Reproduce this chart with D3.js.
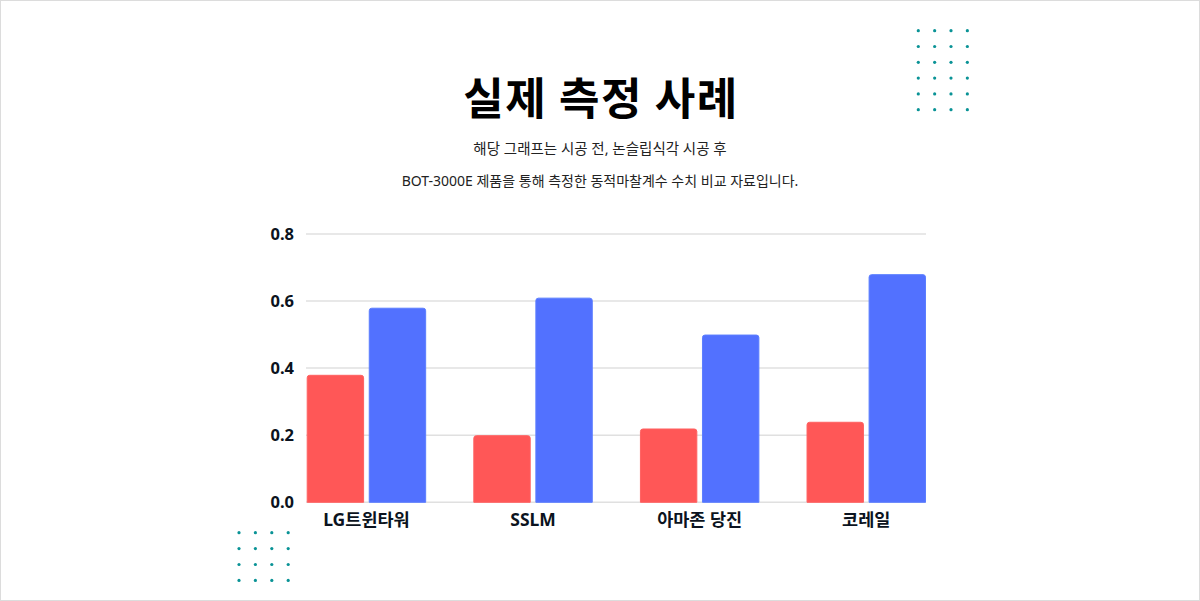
<!DOCTYPE html>
<html><head><meta charset="utf-8">
<script src="https://cdn.jsdelivr.net/npm/d3@7"></script>
<style>
html,body{margin:0;padding:0;background:#fff;}
svg{display:block;}
</style></head>
<body>
<svg id="c" width="1200" height="601"></svg>
<script>
const categories = ["LG트윈타워", "SSLM", "아마존 당진", "코레일"];
const seriesNames = ["시공 전", "시공 후"];
const beforeValues = [0.38, 0.20, 0.22, 0.24];
const afterValues = [0.58, 0.61, 0.50, 0.68];
const yTicks = [0, 0.2, 0.4, 0.6, 0.8];
const titleText = "실제 측정 사례";
const subtitleLines = ["해당 그래프는 시공 전, 논슬립식각 시공 후", "BOT-3000E 제품을 통해 측정한 동적마찰계수 수치 비교 자료입니다."];

const colors = ["#FF5757", "#5271FF"];
const font = "'Noto Sans', 'Noto Sans CJK KR', sans-serif";
const svg = d3.select("#c");

svg.append("rect").attr("x",0.5).attr("y",0.5).attr("width",1199).attr("height",600)
  .attr("fill","#fff").attr("stroke","#dcdcdc");

// dot decorations
function dots(x0, y0, cols, rows, dx, dy){
  const g = svg.append("g");
  for(let r=0;r<rows;r++) for(let c=0;c<cols;c++)
    g.append("circle").attr("cx",x0+c*dx).attr("cy",y0+r*dy).attr("r",1.6).attr("fill","#0a9396");
}
dots(918.3, 30.7, 4, 6, 16.35, 15.8);
dots(239, 532.7, 4, 4, 16.4, 15.9);

svg.append("text").attr("x",601).attr("y",115).attr("text-anchor","middle")
  .attr("font-family","'Noto Sans CJK KR', sans-serif").attr("font-weight",700)
  .attr("font-size",44).attr("letter-spacing",1.6).attr("fill","#000").text(titleText);
subtitleLines.forEach((t,i)=>{
  svg.append("text").attr("x",600).attr("y",154+i*32).attr("text-anchor","middle")
    .attr("font-family",font).attr("font-size",i===0?14.5:14).attr("fill","#222").text(t);
});

const y = d3.scaleLinear().domain([0,0.8]).range([502.3,233.9]);
const x0 = d3.scaleBand().domain(categories).range([306.7,926]).paddingInner(0.283).paddingOuter(0);
const x1 = d3.scaleBand().domain(seriesNames).range([0,x0.bandwidth()]).paddingInner(0.075);

// grid
const grid = svg.append("g");
yTicks.forEach(t=>{
  grid.append("line").attr("x1",306).attr("x2",926).attr("y1",y(t)).attr("y2",y(t))
    .attr("stroke","#e0e0e0").attr("stroke-width",1.5);
});

// y axis
const yAxis = svg.append("g").attr("transform","translate(306,0)")
  .call(d3.axisLeft(y).tickValues(yTicks).tickFormat(d3.format(".1f")).tickSize(0).tickPadding(12));
yAxis.select(".domain").remove();
yAxis.selectAll("text").attr("font-family",font).attr("font-weight",700).attr("font-size",16.5).attr("fill","#0b1320");

// x axis
const xAxis = svg.append("g").attr("transform","translate(0,502.3)")
  .call(d3.axisBottom(x0).tickSize(0).tickPadding(11));
xAxis.select(".domain").remove();
xAxis.selectAll("text").attr("font-family",font).attr("font-weight",700).attr("font-size",17.5).attr("fill","#0b1320");

// bars
const rows = categories.map((c,i)=>({cat:c, vals:[beforeValues[i], afterValues[i]]}));
function topRounded(x, yTop, w, h, r){
  return `M${x},${yTop+h}V${yTop+r}Q${x},${yTop} ${x+r},${yTop}H${x+w-r}Q${x+w},${yTop} ${x+w},${yTop+r}V${yTop+h}Z`;
}
const g = svg.append("g");
rows.forEach(row=>{
  row.vals.forEach((v,j)=>{
    const bx = x0(row.cat)+x1(seriesNames[j]);
    const w = x1.bandwidth();
    const top = y(v);
    g.append("path").attr("d", topRounded(bx+0.5, top+0.5, w-1, y(0)-top-0.5, 2.5))
      .attr("fill", colors[j]).attr("stroke", d3.color(colors[j]).brighter(0.3)).attr("stroke-width",1);
  });
});
</script>
</body></html>
